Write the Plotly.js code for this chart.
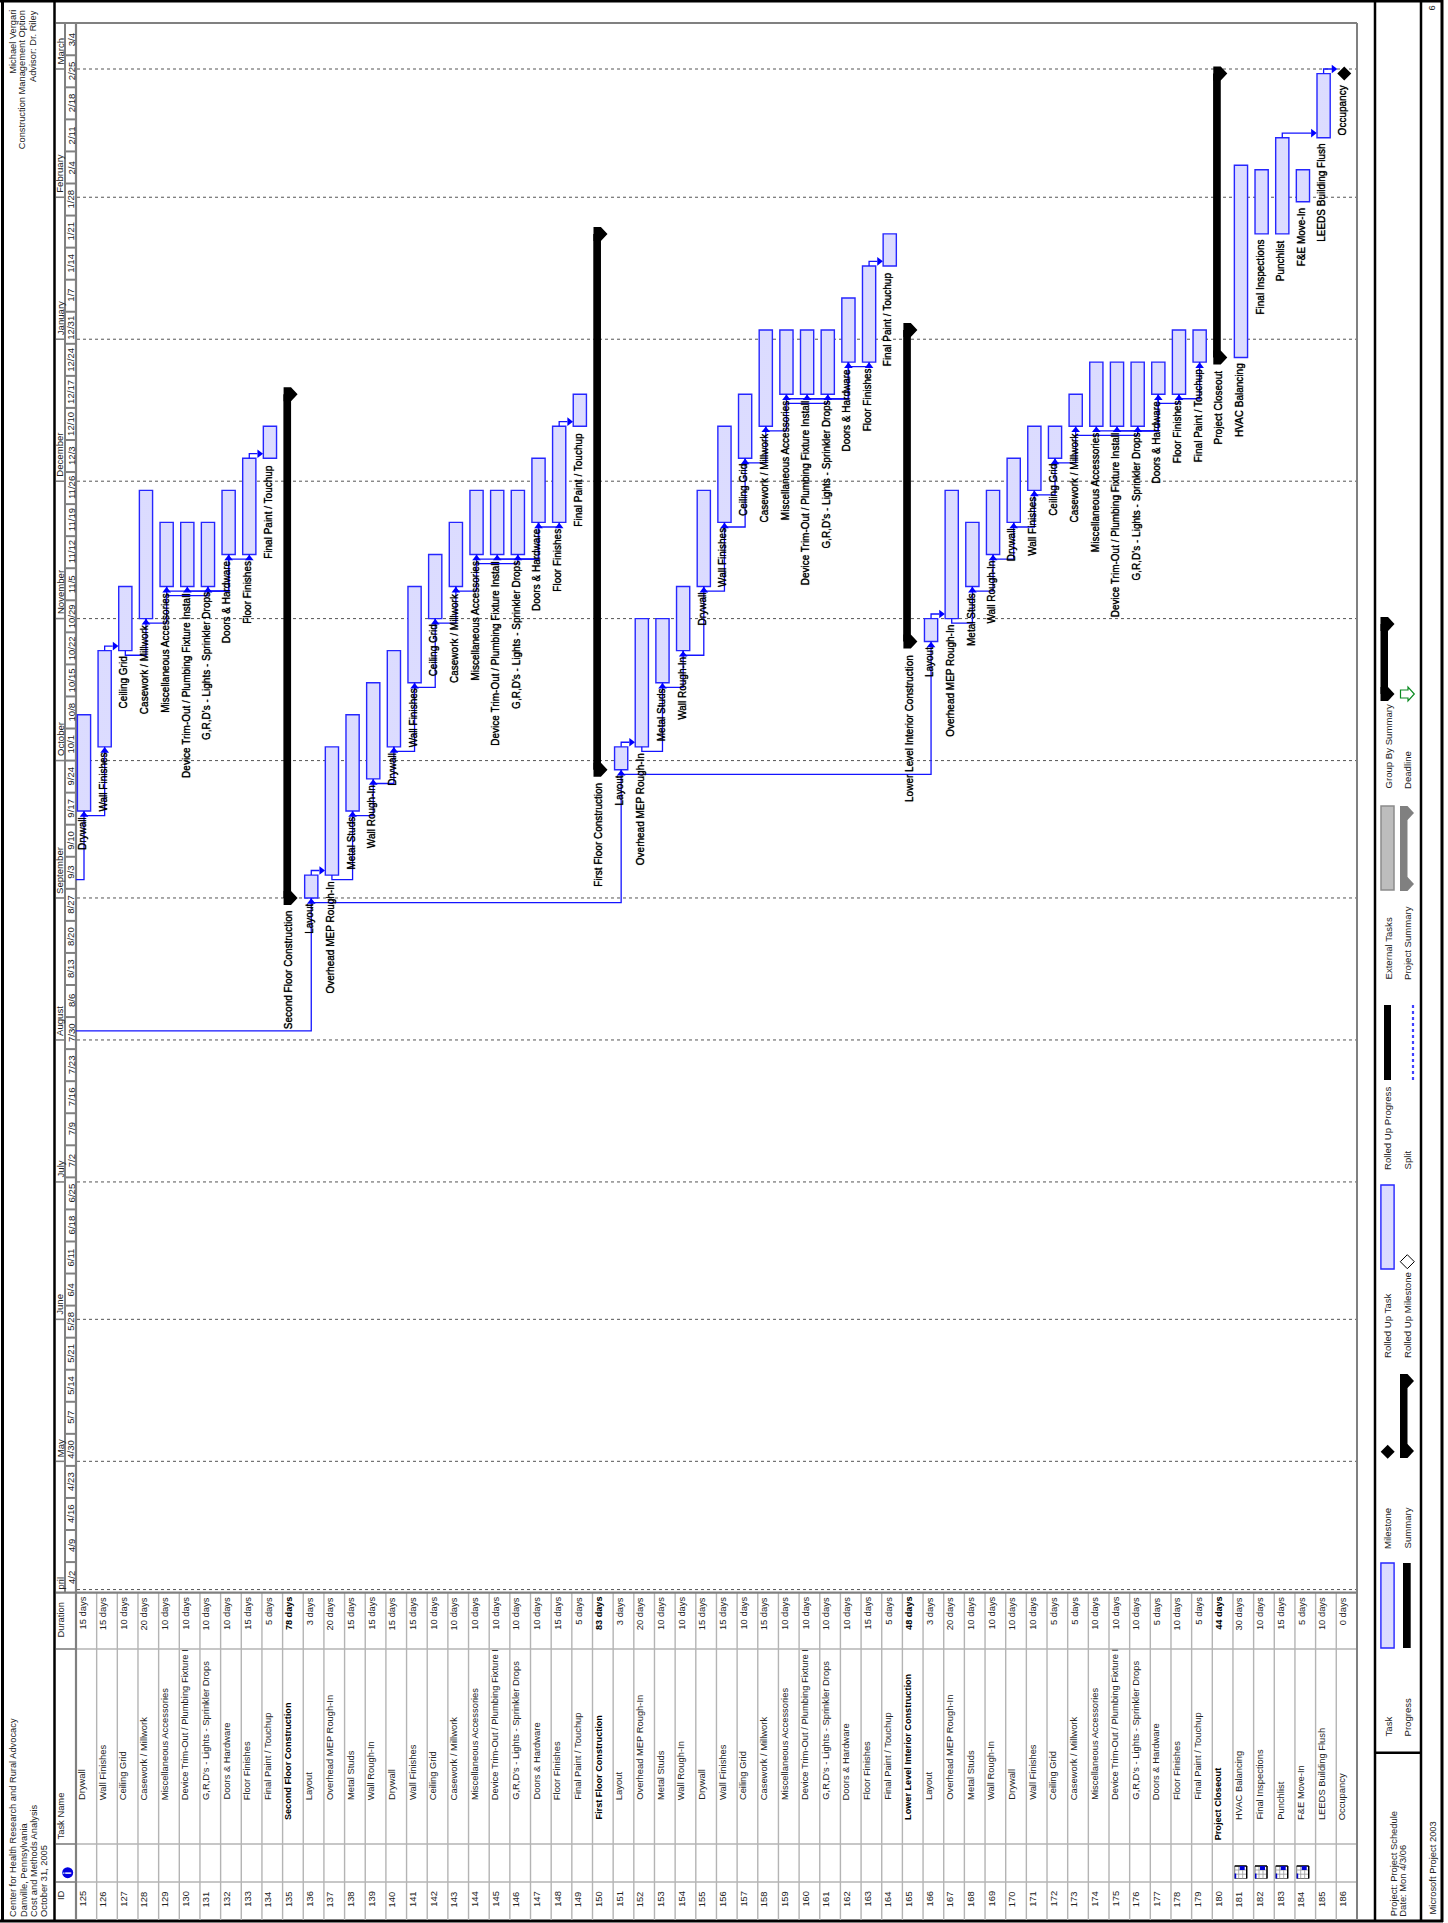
<!DOCTYPE html>
<html><head><meta charset="utf-8">
<script src="https://cdn.plot.ly/plotly-3.0.0.min.js"></script>
<style>html,body{margin:0;padding:0;background:#fff}#g{width:1448px;height:1923px}</style></head>
<body><div id="g"></div>
<script>
const taskIds=[125,126,127,128,129,130,131,132,133,134,135,136,137,138,139,140,141,142,143,144,145,146,147,148,149,150,151,152,153,154,155,156,157,158,159,160,161,162,163,164,165,166,167,168,169,170,171,172,173,174,175,176,177,178,179,180,181,182,183,184,185,186];
const taskNames=["Drywall","Wall Finishes","Ceiling Grid","Casework / Millwork","Miscellaneous Accessories","Device Trim-Out / Plumbing Fixture Install","G,R,D's - Lights - Sprinkler Drops","Doors & Hardware","Floor Finishes","Final Paint / Touchup","Second Floor Construction","Layout","Overhead MEP Rough-In","Metal Studs","Wall Rough-In","Drywall","Wall Finishes","Ceiling Grid","Casework / Millwork","Miscellaneous Accessories","Device Trim-Out / Plumbing Fixture Install","G,R,D's - Lights - Sprinkler Drops","Doors & Hardware","Floor Finishes","Final Paint / Touchup","First Floor Construction","Layout","Overhead MEP Rough-In","Metal Studs","Wall Rough-In","Drywall","Wall Finishes","Ceiling Grid","Casework / Millwork","Miscellaneous Accessories","Device Trim-Out / Plumbing Fixture Install","G,R,D's - Lights - Sprinkler Drops","Doors & Hardware","Floor Finishes","Final Paint / Touchup","Lower Level Interior Construction","Layout","Overhead MEP Rough-In","Metal Studs","Wall Rough-In","Drywall","Wall Finishes","Ceiling Grid","Casework / Millwork","Miscellaneous Accessories","Device Trim-Out / Plumbing Fixture Install","G,R,D's - Lights - Sprinkler Drops","Doors & Hardware","Floor Finishes","Final Paint / Touchup","Project Closeout","HVAC Balancing","Final Inspections","Punchlist","F&E Move-In","LEEDS Building Flush","Occupancy"];
const taskDays=[15,15,10,20,10,10,10,10,15,5,78,3,20,15,15,15,15,10,10,10,10,10,10,15,5,83,3,20,10,10,15,15,10,15,10,10,10,10,15,5,48,3,20,10,10,10,10,5,5,10,10,10,5,10,5,44,30,10,15,5,10,0];
const taskStart=["9/20","10/4","10/25","11/1","11/8","11/8","11/8","11/15","11/15","12/6","9/1","9/1","9/6","9/20","9/27","10/4","10/18","11/1","11/8","11/15","11/15","11/15","11/22","11/22","12/13","9/29","9/29","10/4","10/18","10/25","11/8","11/22","12/6","12/13","12/20","12/20","12/20","12/27","12/27","1/17","10/27","10/27","11/1","11/8","11/15","11/22","11/29","12/6","12/13","12/13","12/13","12/13","12/20","12/20","12/27","12/28","12/28","1/24","1/24","1/31","2/14","2/28"];
const taskEnd=["10/11","10/25","11/8","11/29","11/22","11/22","11/22","11/29","12/6","12/13","12/20","9/6","10/4","10/11","10/18","10/25","11/8","11/15","11/22","11/29","11/29","11/29","12/6","12/13","12/20","1/24","10/4","11/1","11/1","11/8","11/29","12/13","12/20","1/3","1/3","1/3","1/3","1/10","1/17","1/24","1/3","11/1","11/29","11/22","11/29","12/6","12/13","12/13","12/20","12/27","12/27","12/27","12/27","1/3","1/3","2/28","2/8","2/7","2/14","2/7","2/28","2/28"];
const summaryIds=[135,150,165,180];
const milestoneIds=[186];
const noUpArrowIds=[127,134,137,149,152,164,167,180,181,182,183,184,185,186,135,150,165];
const weekLabels=["4/2","4/9","4/16","4/23","4/30","5/7","5/14","5/21","5/28","6/4","6/11","6/18","6/25","7/2","7/9","7/16","7/23","7/30","8/6","8/13","8/20","8/27","9/3","9/10","9/17","9/24","10/1","10/8","10/15","10/22","10/29","11/5","11/12","11/19","11/26","12/3","12/10","12/17","12/24","12/31","1/7","1/14","1/21","1/28","2/4","2/11","2/18","2/25","3/4"];
const monthNames=["May","June","July","August","September","October","November","December","January","February","March"];
const monthStarts=["5/1","6/1","7/1","8/1","9/1","10/1","11/1","12/1","1/1","2/1","3/1"];
const statusDate="4/3";
// elbow links: from row, from date, middle date, to row, to date
const elbowLinks=[
[124.61,"9/5","9/5",125,"9/20"],[124.61,"8/3","8/3",136,"9/1"],
[126,"10/4","9/19",125,"9/20"],[127,"10/25","10/24",128,"11/1"],[129,"11/8","10/31",128,"11/1"],
[132,"11/15","11/7",129,"11/8"],[132,"11/15","11/7",130,"11/8"],[132,"11/15","11/7",131,"11/8"],
[129,"11/6","11/6",131,"11/8"],[133,"11/15","11/14",132,"11/15"],
[136,"9/1","8/31",151,"9/29"],[151,"9/29","9/28",166,"10/27"],[137,"9/6","9/5",138,"9/20"],
[139,"9/27","9/19",138,"9/20"],[140,"10/4","9/26",139,"9/27"],[141,"10/18","10/3",140,"10/4"],
[142,"11/1","10/17",141,"10/18"],[143,"11/8","10/31",142,"11/1"],[144,"11/15","11/7",143,"11/8"],
[147,"11/22","11/14",144,"11/15"],[147,"11/22","11/14",145,"11/15"],[147,"11/22","11/14",146,"11/15"],
[144,"11/13","11/13",146,"11/15"],[148,"11/22","11/21",147,"11/22"],
[152,"10/4","10/3",153,"10/18"],[154,"10/25","10/17",153,"10/18"],[155,"11/8","10/24",154,"10/25"],
[156,"11/22","11/7",155,"11/8"],[157,"12/6","11/21",156,"11/22"],[158,"12/13","12/5",157,"12/6"],
[159,"12/20","12/12",158,"12/13"],[162,"12/27","12/19",159,"12/20"],[162,"12/27","12/19",160,"12/20"],
[162,"12/27","12/19",161,"12/20"],[159,"12/18","12/18",161,"12/20"],[163,"12/27","12/26",162,"12/27"],
[167,"11/1","10/31",168,"11/8"],[169,"11/15","11/7",168,"11/8"],[170,"11/22","11/14",169,"11/15"],
[171,"11/29","11/21",170,"11/22"],[172,"12/6","11/28",171,"11/29"],[173,"12/13","12/5",172,"12/6"],
[177,"12/20","12/12",174,"12/13"],[177,"12/20","12/12",175,"12/13"],[177,"12/20","12/12",176,"12/13"],
[173,"12/11","12/11",176,"12/13"],[178,"12/20","12/18",177,"12/20"],[179,"12/27","12/19",178,"12/20"]];
// finish-to-start links drawn into the side of the next bar
const sideLinks=[[126,"10/25","10/26",127],[133,"12/6","12/7",134],[136,"9/6","9/7",137],[148,"12/13","12/14",149],[151,"10/4","10/5",152],[163,"1/17","1/18",164],[166,"11/1","11/2",167],[183,"2/14","2/15",185],[185,"2/28","3/1",186]];
const legendRow1=[["Task",1737],["Milestone",1549],["Rolled Up Task",1358],["Rolled Up Progress",1170],["External Tasks",980],["Group By Summary",789]];
const legendRow2=[["Progress",1737],["Summary",1549],["Rolled Up Milestone",1358],["Split",1170],["Project Summary",980],["Deadline",789]];

const W=1448,H=1923,PW=20.66,PD=4.58,X0=84,DAY=864e5;
const FONT='"Liberation Sans",Arial,sans-serif';
const MS=d=>{const [m,dd]=d.split('/').map(Number);return Date.UTC(m>=4?2006:2007,m-1,dd)};
const ISO=ms=>new Date(ms).toISOString().replace('Z','');
const MAR1=MS("3/1");
const rowX=id=>id-125;
const pxX=p=>(p-X0)/PW;
const pxMs=p=>MAR1-(p-69)/PD*DAY;
const paperY=p=>1-p/H, paperX=p=>p/W;
const idx=id=>taskIds.indexOf(id);

const shapes=[],ann=[];
function pl(x0,y0,x1,y1,color,w,dash){shapes.push({type:'line',xref:'paper',yref:'paper',x0:paperX(x0),x1:paperX(x1),y0:paperY(y0),y1:paperY(y1),line:{color,width:w,dash:dash||'solid'},layer:'below'});}
function poly(pts,fill,lc,lw){shapes.push({type:'path',xref:'paper',yref:'paper',path:'M'+pts.map(p=>paperX(p[0])+','+paperY(p[1])).join('L')+'Z',fillcolor:fill,line:{color:lc||fill,width:lw===undefined?0:lw},layer:'above'});}
function rect(x0,y0,x1,y1,fill,lc,lw){shapes.push({type:'rect',xref:'paper',yref:'paper',x0:paperX(x0),x1:paperX(x1),y0:paperY(y0),y1:paperY(y1),fillcolor:fill,line:{color:lc||fill,width:lw||0},layer:'above'});}
function txt(s,px,py,anchor,opt){opt=opt||{};ann.push({text:s,xref:'paper',yref:'paper',x:paperX(px),y:paperY(py),xanchor:'center',yanchor:anchor,textangle:-90,showarrow:false,borderpad:0,borderwidth:0,font:{family:FONT,size:opt.size||9.4,color:opt.color||'#222'}});}

// frame
pl(2.5,0,2.5,1922,'#000',3);pl(0,1,1443,1,'#000',3);pl(1442,0,1442,1922,'#000',3);pl(0,1921,1443,1921,'#000',3);
pl(54.5,0,54.5,1922,'#000',2.5);pl(1375,0,1375,1922,'#000',2.5);pl(1421,0,1421,1922,'#000',2.5);pl(1375,1752.7,1421,1752.7,'#000',2.5);
// chart & table rules
const G='#808080',L='#b4b4b4';
for(let i=1;i<taskIds.length;i++){const p=76+i*20.66;pl(p,1593,p,1920,L,1.4);}
[1649,1844,1882].forEach(y=>{pl(76,y,1357,y,L,1.6);pl(56,y,76,y,G,1.6);});
pl(56,23,1357,23,G,2);pl(1357,23,1357,1920,G,2);pl(76,23,76,1920,G,2.2);pl(65,23,65,1592,G,2);pl(56,1592.7,1357,1592.7,G,2.2);
// month dotted lines, status line and header ticks
monthStarts.concat([statusDate]).forEach(d=>{shapes.push({type:'line',xref:'paper',yref:'y',x0:paperX(77),x1:paperX(1356),y0:ISO(MS(d)),y1:ISO(MS(d)),line:{color:'#555',width:1,dash:'dot'},layer:'below'});});
monthStarts.forEach((d,i)=>{shapes.push({type:'line',xref:'paper',yref:'y',x0:paperX(56),x1:paperX(65),y0:ISO(MS(d)),y1:ISO(MS(d)),line:{color:G,width:1.6},layer:'below'});
 ann.push({text:monthNames[i],xref:'paper',yref:'y',x:paperX(60),y:ISO(MS(d)),yshift:4,xanchor:'center',yanchor:'bottom',textangle:-90,showarrow:false,borderpad:0,borderwidth:0,font:{family:FONT,size:9.6,color:'#222'}});});
txt('pril',60,1590,'bottom');
weekLabels.forEach((w,i)=>{const m=MS(w);
 if(i>0)shapes.push({type:'line',xref:'paper',yref:'y',x0:paperX(65),x1:paperX(76),y0:ISO(m),y1:ISO(m),line:{color:G,width:2},layer:'below'});
 ann.push({text:w,xref:'paper',yref:'y',x:paperX(71),y:ISO(m+3.5*DAY),xanchor:'center',yanchor:'middle',textangle:-90,showarrow:false,borderpad:0,borderwidth:0,font:{family:FONT,size:9.6,color:'#222'}});});

// table
taskIds.forEach((id,i)=>{const s=summaryIds.includes(id),p=81.5+i*20.66,b=t=>s?'<b>'+t+'</b>':t;
 txt(String(id),p,1907,'bottom');
 const tn=taskNames[i].startsWith('Device')?'Device Trim-Out / Plumbing Fixture I':taskNames[i];
 const by=id===180?1840:(s||id>180)?1820:1800;
 txt(b(tn),p,by,'bottom',{color:s?'#000':'#222',size:s?9.15:9.4});
 txt(b(taskDays[i]+' days'),p+0.5,1597,'top',{color:s?'#000':'#222',size:s?9.15:9.4});
 const lab=s?13:(milestoneIds.includes(id)?12:6);
 ann.push({text:taskNames[i],xref:'x',yref:'y',x:rowX(id)-0.07,y:ISO(MS(taskStart[i])),yshift:-lab,xanchor:'center',yanchor:'top',textangle:-90,showarrow:false,borderpad:0,borderwidth:0,font:{family:FONT,size:10,color:'#000',shadow:'0 0 0.7px #000'}});
});
txt('ID',60,1900,'bottom');txt('Task Name',60,1840,'bottom');txt('Duration',60,1638,'bottom');
// indicators
shapes.push({type:'circle',xref:'paper',yref:'paper',x0:paperX(62.2),x1:paperX(73.2),y0:paperY(1867.2),y1:paperY(1878.2),fillcolor:'#0000e0',line:{color:'#0000e0',width:0},layer:'above'});
ann.push({text:'<b>i</b>',xref:'paper',yref:'paper',x:paperX(67.7),y:paperY(1872.7),xanchor:'center',yanchor:'middle',textangle:-90,showarrow:false,borderpad:0,borderwidth:0,font:{family:FONT,size:10,color:'#fff'}});
[1240.7,1261,1281.7,1302.7].forEach(c=>{const a=c-6,b=c+6,t=1866,e=1878.5;
 rect(a,t,b,e,'#fff','#777',1);
 [t+4,t+8.2].forEach(y=>shapes.push({type:'line',xref:'paper',yref:'paper',x0:paperX(a),x1:paperX(b),y0:paperY(y),y1:paperY(y),line:{color:'#999',width:.8},layer:'above'}));
 [a+4,a+8].forEach(x=>shapes.push({type:'line',xref:'paper',yref:'paper',x0:paperX(x),x1:paperX(x),y0:paperY(t),y1:paperY(e),line:{color:'#999',width:.8},layer:'above'}));
 [[a,t,b,t],[b,t,b,e]].forEach(q=>shapes.push({type:'line',xref:'paper',yref:'paper',x0:paperX(q[0]),x1:paperX(q[2]),y0:paperY(q[1]),y1:paperY(q[3]),line:{color:'#000',width:1.4},layer:'above'}));
 rect(c-1,t,c+4,t+4,'#0000d0');rect(a,e-5,a+1.5,e,'#0000d0');});
// page text
[["Center for Health Research and Rural Advocacy",12.7],["Danville, Pennsylvania",23.2],["Cost and Methods Analysis",33.2],["October 31, 2005",43.2]].forEach(t=>txt(t[0],t[1],1916.7,'bottom',{size:9.3}));
[["Michael Vergari",12.7],["Construction Management Option",22.7],["Advisor: Dr. Riley",33]].forEach(t=>txt(t[0],t[1],10,'top',{size:9.3}));
txt('Project: Project Schedule',1393,1916.7,'bottom');txt('Date: Mon 4/3/06',1403,1916.7,'bottom');
txt('Microsoft Project 2003',1432,1915,'bottom');txt('6',1431,6,'top');
legendRow1.forEach(t=>txt(t[0],1387.5,t[1],'bottom',{size:9.6}));legendRow2.forEach(t=>txt(t[0],1407,t[1],'bottom',{size:9.6}));
// legend glyphs
function capped(c,top,bot,col){rect(c-7,top+7,c+0.5,bot-7,col);
 [top,bot-14].forEach(t=>poly([[c-7,t],[c+0.5,t],[c+7,t+7],[c+0.5,t+14],[c-7,t+14]],col));}
rect(1403,1563,1410.7,1648,'#000');
poly([[1387.7,1444.7],[1394.7,1451.7],[1387.7,1458.7],[1380.7,1451.7]],'#000');
capped(1407,1374,1458,'#000');
poly([[1407.3,1254.7],[1414.3,1261.7],[1407.3,1268.7],[1400.3,1261.7]],'#fff','#000',1);
rect(1384,1005,1391,1080,'#000');
pl(1413,1005,1413,1080,'#4040ff',2.2,'dot');
rect(1381,806,1394,890,'#bdbdbd','#8c8c8c',1.5);
capped(1407,806,891,'#808080');
capped(1387.5,617,701,'#000');
poly([[1400.5,690],[1408,690],[1408,687],[1414.3,694],[1408,701],[1408,698],[1400.5,698]],'#fff','#0a8a20',1.2);

// marks
const plain=taskIds.filter(id=>!summaryIds.includes(id)&&!milestoneIds.includes(id));
const dotted={color:'#e0e0ff',line:{color:'#2626ff',width:1.4},pattern:{shape:'.',size:2,solidity:0.4,fgcolor:'#c4c4ff',bgcolor:'#ebebff',fillmode:'replace'}};
const taskTrace={type:'bar',x:plain.map(rowX),y:plain.map(id=>MS(taskEnd[idx(id)])-MS(taskStart[idx(id)])),base:plain.map(id=>ISO(MS(taskStart[idx(id)]))),width:13.2/PW,marker:dotted,hoverinfo:'skip'};
const swatchTrace={type:'bar',x:[pxX(1387.5),pxX(1387.5)],y:[(1648-1563)/PD*DAY,(1269-1185)/PD*DAY],base:[ISO(pxMs(1648)),ISO(pxMs(1269))],width:13.2/PW,marker:dotted,hoverinfo:'skip'};
const sumTrace={type:'bar',x:summaryIds.map(id=>rowX(id)-0.163),y:summaryIds.map(id=>MS(taskEnd[idx(id)])-MS(taskStart[idx(id)])),base:summaryIds.map(id=>ISO(MS(taskStart[idx(id)]))),width:7.7/PW,marker:{color:'#000',line:{width:0}},hoverinfo:'skip'};
// summary caps
const capX=[],capY=[];const hw=7/PW,hd=7/PD*DAY;
summaryIds.forEach(id=>{const c=rowX(id);[MS(taskStart[idx(id)]),MS(taskEnd[idx(id)])].forEach(m=>{
 [[c-hw,m+hd],[c+.02,m+hd],[c+hw,m],[c+.02,m-hd],[c-hw,m-hd],[c-hw,m+hd]].forEach(p=>{capX.push(p[0]);capY.push(ISO(p[1]));});capX.push(null);capY.push(null);});});
const capTrace={type:'scatter',mode:'lines',x:capX,y:capY,fill:'toself',fillcolor:'#000',line:{color:'#000',width:0},hoverinfo:'skip'};
// links
const lx=[],ly=[];
elbowLinks.forEach(l=>{[[l[0],l[1]],[l[0],l[2]],[l[3],l[2]],[l[3],l[4]]].forEach(p=>{lx.push(rowX(p[0]));ly.push(ISO(MS(p[1])));});lx.push(null);ly.push(null);});
const barEdge=6.6/PW;
sideLinks.forEach(l=>{[[rowX(l[0]),l[1]],[rowX(l[0]),l[2]],[rowX(l[3])-barEdge-6/PW,l[2]]].forEach(p=>{lx.push(p[0]);ly.push(ISO(MS(p[1])));});lx.push(null);ly.push(null);});
const linkTrace={type:'scatter',mode:'lines',x:lx,y:ly,line:{color:'#1414ff',width:1.3},hoverinfo:'skip'};
const upIds=taskIds.filter(id=>!noUpArrowIds.includes(id));
const upTrace={type:'scatter',mode:'markers',x:upIds.map(rowX),y:upIds.map(id=>ISO(MS(taskStart[idx(id)])-0.87*DAY)),marker:{symbol:'triangle-up',size:7.5,color:'#0000ff',line:{width:0}},hoverinfo:'skip'};
const rightTrace={type:'scatter',mode:'markers',x:sideLinks.map(l=>rowX(l[3])-barEdge-4/PW),y:sideLinks.map(l=>ISO(MS(l[2]))),marker:{symbol:'triangle-right',size:7.5,color:'#0000ff',line:{width:0}},hoverinfo:'skip'};
const msTrace={type:'scatter',mode:'markers',x:milestoneIds.map(rowX),y:milestoneIds.map(id=>ISO(MS(taskStart[idx(id)]))),marker:{symbol:'diamond',size:10.8,color:'#000',line:{width:0}},hoverinfo:'skip'};

Plotly.newPlot('g',[taskTrace,swatchTrace,linkTrace,sumTrace,capTrace,upTrace,rightTrace,msTrace],{
 width:W,height:H,margin:{l:0,r:0,t:0,b:0},showlegend:false,barmode:'overlay',paper_bgcolor:'#fff',plot_bgcolor:'#fff',
 xaxis:{type:'linear',range:[pxX(0),pxX(W)],visible:false,fixedrange:true},
 yaxis:{type:'date',range:[ISO(pxMs(H)),ISO(pxMs(0))],visible:false,fixedrange:true},
 shapes,annotations:ann
},{displayModeBar:false,staticPlot:true});
</script></body></html>
